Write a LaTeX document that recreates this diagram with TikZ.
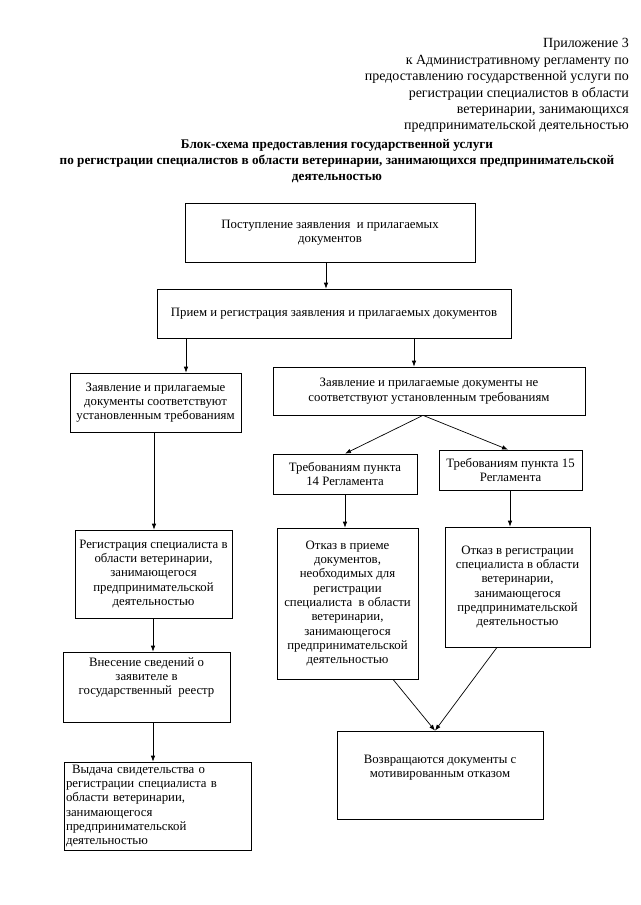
\documentclass[tikz,border=0pt]{standalone}
\usepackage{fontspec}
\setmainfont{Liberation Serif}
\usetikzlibrary{arrows.meta}
\newcommand{\boxfont}{\fontsize{12.8}{14.3}\selectfont}
\newcommand{\headfont}{\fontsize{14}{16.4}\selectfont}
\newcommand{\titlefont}{\fontsize{13.2}{16}\selectfont\bfseries}
\tikzset{
  blk/.style={draw, line width=0.7pt, align=center, inner sep=2pt, font=\boxfont},
  arr/.style={-{Latex[length=6pt,width=4.5pt]}, line width=0.7pt},
}
\begin{document}
\begin{tikzpicture}[x=1pt,y=-1pt]
\useasboundingbox (0,0) rectangle (640,905);
\fill[white] (0,0) rectangle (640,905);

% header
\node[anchor=north east, inner sep=0pt, align=right, font=\headfont] (hdr) at (629,38.5)
 {Приложение 3\\к Административному регламенту по\\предоставлению государственной услуги по\\регистрации специалистов в области\\ветеринарии, занимающихся\\предпринимательской деятельностью};

% title
\node[anchor=north, inner sep=0pt, align=center, font=\titlefont] (ttl) at (337,139.5)
 {Блок-схема предоставления государственной услуги\\по регистрации специалистов в области ветеринарии, занимающихся предпринимательской\\деятельностью};

% boxes
\node[blk, minimum width=290, minimum height=59] (b1) at (330,232.5)
 {Поступление заявления\ \ и прилагаемых\\документов};
\node[blk, minimum width=354, minimum height=49] (b2) at (334,313.5)
 {Прием и регистрация заявления и прилагаемых документов};
\node[blk, minimum width=171, minimum height=59] (b3) at (155.5,402.5)
 {Заявление и прилагаемые\\документы соответствуют\\установленным требованиям};
\node[blk, minimum width=312, minimum height=48] (b4) at (429,391)
 {Заявление и прилагаемые документы не\\соответствуют установленным требованиям};
\node[blk, minimum width=144, minimum height=40] (b5) at (345,474)
 {Требованиям пункта\\14 Регламента};
\node[blk, minimum width=143, minimum height=40] (b6) at (510.5,470)
 {Требованиям пункта 15\\Регламента};
\node[blk, minimum width=157, minimum height=88] (b7) at (153.5,574)
 {Регистрация специалиста в\\области ветеринарии,\\занимающегося\\предпринимательской\\деятельностью};
\node[blk, minimum width=167, minimum height=70, text depth=22pt] (b8) at (146.5,687)
 {Внесение сведений о\\заявителе в\\государственный\ \ реестр};
\node[blk, align=left, text width=183, minimum height=88, inner xsep=2pt] (b9) at (157.5,806)
 {\hspace*{6pt}Выдача свидетельства о\\регистрации специалиста в\\области ветеринарии,\\занимающегося\\предпринимательской\\деятельностью};
\node[blk, minimum width=141, minimum height=151] (b10) at (347.5,603.5)
 {Отказ в приеме\\документов,\\необходимых для\\регистрации\\специалиста\ \ в области\\ветеринарии,\\занимающегося\\предпринимательской\\деятельностью};
\node[blk, minimum width=145, minimum height=120] (b11) at (517.5,587)
 {Отказ в регистрации\\специалиста в области\\ветеринарии,\\занимающегося\\предпринимательской\\деятельностью};
\node[blk, minimum width=206, minimum height=88, text depth=18pt] (b12) at (440,775)
 {Возвращаются документы с\\мотивированным отказом};

% connector x positions
\coordinate (x326) at (326,0);
\coordinate (x186) at (186,0);
\coordinate (x414) at (414,0);
\coordinate (x423) at (423,0);
\coordinate (x345) at (345,0);
\coordinate (x508) at (508,0);
\coordinate (x154) at (154,0);
\coordinate (x153) at (153,0);
\coordinate (x510) at (510,0);
\coordinate (x393) at (393,0);
\coordinate (x497) at (497,0);
\coordinate (x435) at (435,0);

\draw[arr] (x326 |- b1.south) -- (x326 |- b2.north);
\draw[arr] (x186 |- b2.south) -- (x186 |- b3.north);
\draw[arr] (x414 |- b2.south) -- (x414 |- b4.north);
\draw[arr] (x423 |- b4.south) -- (x345 |- b5.north);
\draw[arr] (x423 |- b4.south) -- (x508 |- b6.north);
\draw[arr] (x154 |- b3.south) -- (x154 |- b7.north);
\draw[arr] (x153 |- b7.south) -- (x153 |- b8.north);
\draw[arr] (x153 |- b8.south) -- (x153 |- b9.north);
\draw[arr] (x345 |- b5.south) -- (x345 |- b10.north);
\draw[arr] (x510 |- b6.south) -- (x510 |- b11.north);
\draw[arr] (x393 |- b10.south) -- (x435 |- b12.north);
\draw[arr] (x497 |- b11.south) -- (x435 |- b12.north);
\end{tikzpicture}
\end{document}
